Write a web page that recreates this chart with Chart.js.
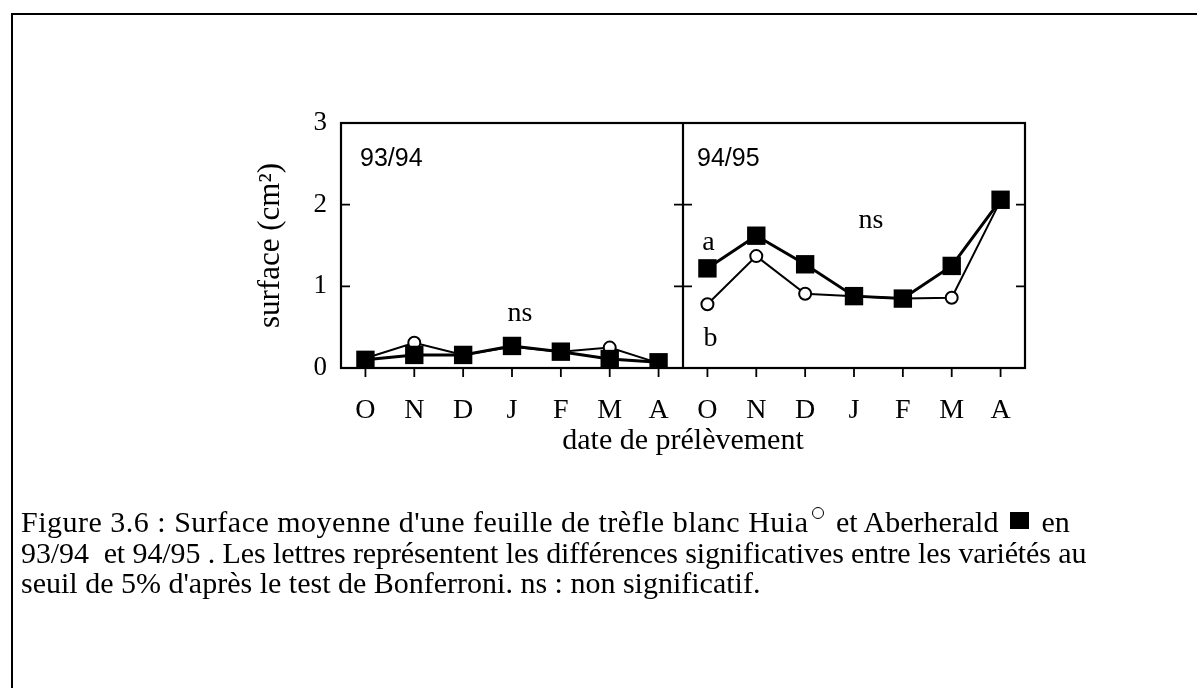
<!DOCTYPE html>
<html>
<head>
<meta charset="utf-8">
<script src="https://cdn.jsdelivr.net/npm/chart.js@4.4.1/dist/chart.umd.min.js"></script>
<style>
html,body{margin:0;padding:0;background:#fff;}
#wrap{position:relative;width:1197px;height:688px;overflow:hidden;background:#fff;}
#c{position:absolute;left:0;top:0;}
#frame{position:absolute;left:11px;top:13px;width:1200px;height:700px;border-top:2px solid #000;border-left:2px solid #000;}
.cap{position:absolute;left:21px;font-family:"Liberation Serif","Times New Roman",serif;font-size:30px;line-height:30px;color:#000;white-space:pre;}
.circ{display:inline-block;width:10px;height:10px;border:1.8px solid #000;border-radius:50%;vertical-align:13px;margin-left:4px;margin-right:4px;}
.sq{display:inline-block;width:19px;height:17px;background:#000;vertical-align:3px;margin:0 5px 0 4px;}
</style>
</head>
<body>
<div id="wrap">
<div id="frame"></div>
<canvas id="c" width="1197" height="688"></canvas>
<div class="cap" style="top:507px"><span style="letter-spacing:0.5px">Figure 3.6 : Surface moyenne d'une feuille de trèfle blanc Huia</span><span class="circ"></span> et Aberherald <span class="sq"></span> en</div>
<div class="cap" style="top:538px;letter-spacing:-0.1px">93/94  et 94/95 . Les lettres représentent les différences significatives entre les variétés au</div>
<div class="cap" style="top:568px">seuil de 5% d'après le test de Bonferroni. ns : non significatif.</div>
</div>
<script>
// ---- data ----
const months = ['O','N','D','J','F','M','A'];
const categories = months.concat(months);
const seasons = ['93/94','94/95'];
const huia9394 = [0.12, 0.31, 0.16, 0.26, 0.20, 0.25, 0.06];
const aber9394 = [0.10, 0.16, 0.16, 0.27, 0.20, 0.11, 0.07];
const huia9495 = [0.78, 1.37, 0.91, 0.88, 0.85, 0.86, 2.05];
const aber9495 = [1.22, 1.62, 1.27, 0.88, 0.85, 1.25, 2.06];
const yTicks = [0, 1, 2, 3];
const yTitle = 'surface (cm\u00B2)';
const xTitle = 'date de prélèvement';

const gap = [null, null, null, null, null, null, null];
const serif = '"Liberation Serif","Times New Roman",serif';

const squareStyle = {pointStyle:'rect', pointRadius:13, pointHoverRadius:13, pointBackgroundColor:'#000', pointBorderColor:'#000', pointBorderWidth:0, borderColor:'#000', borderWidth:3, tension:0, fill:false};
const circleStyle = {pointStyle:'circle', pointRadius:6, pointHoverRadius:6, pointBackgroundColor:'#fff', pointBorderColor:'#000', pointBorderWidth:2, borderColor:'#000', borderWidth:2, tension:0, fill:false};

const decor = {
  id:'decor',
  beforeDatasetsDraw(chart){
    const {ctx, chartArea:a, scales:{x, y}} = chart;
    ctx.save();
    ctx.strokeStyle = '#000';
    ctx.lineWidth = 2.2;
    ctx.strokeRect(a.left, a.top, a.right - a.left, a.bottom - a.top);
    const xd = (x.getPixelForValue(6) + x.getPixelForValue(7)) / 2;
    ctx.beginPath(); ctx.moveTo(xd, a.top); ctx.lineTo(xd, a.bottom); ctx.stroke();
    ctx.lineWidth = 1.8;
    yTicks.forEach(v => {
      const py = y.getPixelForValue(v);
      ctx.beginPath();
      ctx.moveTo(a.left, py); ctx.lineTo(a.left + 9, py);
      ctx.moveTo(xd - 9, py); ctx.lineTo(xd + 9, py);
      ctx.moveTo(a.right, py); ctx.lineTo(a.right - 9, py);
      ctx.stroke();
    });
    categories.forEach((c, i) => {
      const px = x.getPixelForValue(i);
      ctx.beginPath(); ctx.moveTo(px, a.bottom); ctx.lineTo(px, a.bottom + 9); ctx.stroke();
    });
    ctx.restore();
  },
  afterDraw(chart){
    const {ctx, chartArea:a, scales:{x, y}} = chart;
    const xd = (x.getPixelForValue(6) + x.getPixelForValue(7)) / 2;
    ctx.save();
    ctx.fillStyle = '#000';
    ctx.textBaseline = 'alphabetic';
    ctx.font = '25px "Liberation Sans", Arial, sans-serif';
    ctx.textAlign = 'left';
    ctx.fillText(seasons[0], a.left + 19, y.getPixelForValue(2.47));
    ctx.fillText(seasons[1], xd + 14, y.getPixelForValue(2.47));
    ctx.font = '28px ' + serif;
    ctx.textAlign = 'center';
    ctx.fillText('ns', x.getPixelForValue(3) + 8, y.getPixelForValue(0.58));
    ctx.fillText('ns', x.getPixelForValue(10) + 17, y.getPixelForValue(1.72));
    ctx.fillText('a', x.getPixelForValue(7) + 1, y.getPixelForValue(1.44));
    ctx.fillText('b', x.getPixelForValue(7) + 3, y.getPixelForValue(0.27));
    ctx.restore();
  }
};

new Chart(document.getElementById('c'), {
  type:'line',
  data:{
    labels: categories,
    datasets:[
      Object.assign({label:'Aberherald 93/94', data: aber9394.concat(gap)}, squareStyle),
      Object.assign({label:'Aberherald 94/95', data: gap.concat(aber9495)}, squareStyle),
      Object.assign({label:'Huia 93/94', data: huia9394.concat(gap)}, circleStyle),
      Object.assign({label:'Huia 94/95', data: gap.concat(huia9495)}, circleStyle)
    ]
  },
  options:{
    responsive:false,
    animation:false,
    devicePixelRatio:1,
    layout:{padding:{left:251, right:172, top:123, bottom:225}},
    plugins:{legend:{display:false}, tooltip:{enabled:false}},
    scales:{
      x:{
        type:'category', offset:true,
        grid:{display:false, drawTicks:false},
        border:{display:false},
        ticks:{color:'#000', font:{family:serif, size:28}, padding:26, maxRotation:0, autoSkip:false},
        title:{display:true, text:xTitle, color:'#000', font:{family:serif, size:30}, padding:{top:0, bottom:4}},
        afterFit(s){ s.height = 95; }
      },
      y:{
        min:0, max:3,
        grid:{display:false, drawTicks:false},
        border:{display:false},
        afterBuildTicks(s){ s.ticks = yTicks.map(v => ({value:v})); },
        ticks:{color:'#000', font:{family:serif, size:27}, padding:14},
        title:{display:true, text:yTitle, color:'#000', font:{family:serif, size:31}, padding:{top:1, bottom:0}},
        afterFit(s){ s.width = 90; }
      }
    }
  },
  plugins:[decor]
});
</script>
</body>
</html>
